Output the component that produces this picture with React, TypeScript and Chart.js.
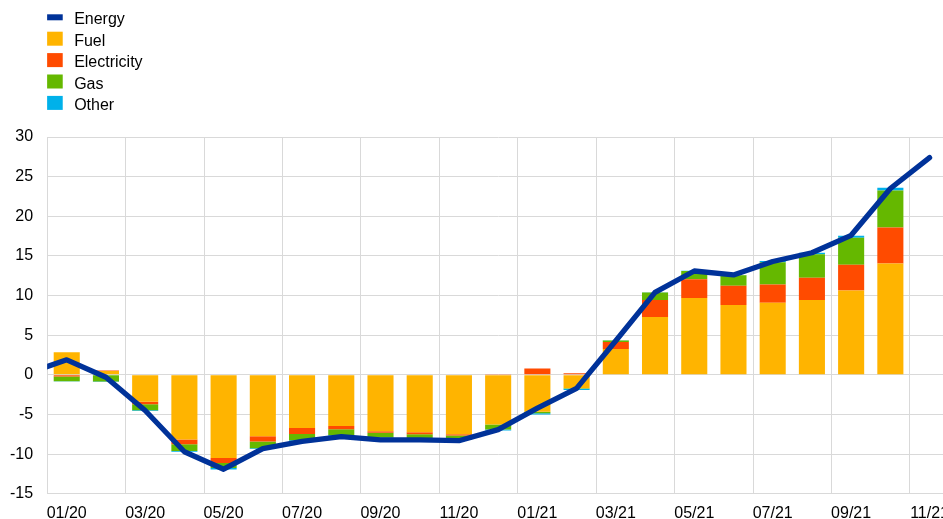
import { useEffect, useRef } from 'react';
import { Chart, registerables } from 'chart.js';

Chart.register(...registerables);

// Month before the first shown month (line enters from the left edge)
const priorMonth = '12/19';
const months = [
  '01/20', '02/20', '03/20', '04/20', '05/20', '06/20', '07/20', '08/20', '09/20', '10/20', '11/20', '12/20',
  '01/21', '02/21', '03/21', '04/21', '05/21', '06/21', '07/21', '08/21', '09/21', '10/21', '11/21',
];

// Energy inflation, 12/19 .. 11/21
const energy = [
  0.2, 1.9, -0.3, -4.5, -9.7, -11.9, -9.3, -8.4, -7.8, -8.2, -8.2, -8.3, -6.9,
  -4.2, -1.7, 4.3, 10.4, 13.1, 12.6, 14.3, 15.4, 17.6, 23.5, 27.4,
];

// Contributions, 01/20 .. 10/21
const fuel = [
  2.85, 0.5, -3.4, -8.15, -10.5, -7.75, -6.7, -6.45, -7.1, -7.25, -7.5, -6.25,
  -4.65, -1.7, 3.25, 7.3, 9.7, 8.8, 9.1, 9.45, 10.65, 14.05,
];
const electricity = [
  -0.2, 0.05, -0.3, -0.6, -0.6, -0.65, -0.75, -0.4, -0.2, -0.25, -0.15, 0.1,
  0.8, 0.2, 0.9, 2.15, 2.35, 2.45, 2.3, 2.8, 3.25, 4.55,
];
const gas = [
  -0.6, -0.85, -0.75, -0.85, -0.65, -0.85, -0.8, -0.75, -0.6, -0.5, -0.4, -0.65,
  -0.2, -0.05, 0.2, 0.95, 1.05, 1.3, 2.8, 2.95, 3.4, 4.65,
];
const other = [
  -0.05, -0.05, -0.1, -0.1, -0.2, -0.1, -0.1, -0.1, -0.1, -0.1, -0.12, -0.12,
  -0.15, -0.15, 0.02, 0.02, 0.02, 0.03, 0.15, 0.2, 0.25, 0.35,
];

const yTicks = { min: -15, max: 30, step: 5 };

const FONT = '"Liberation Sans", Arial, Helvetica, sans-serif';
const GRID = '#d9d9d9';

const labels = [priorMonth, ...months];
const pad = (arr: number[]) => {
  const out: (number | null)[] = labels.map(() => null);
  arr.forEach((v, i) => (out[i + 1] = v));
  return out;
};

const legendPlugin = {
  id: 'customLegend',
  afterDraw(chart: any) {
    const ctx = chart.ctx;
    const x0 = chart.chartArea.left;
    ctx.save();
    chart.data.datasets.forEach((ds: any, i: number) => {
      const cy = 17.3 + i * 21.4;
      ctx.fillStyle = ds.type === 'line' ? ds.borderColor : ds.backgroundColor;
      if (ds.type === 'line') ctx.fillRect(x0, cy - 3, 15.6, 6);
      else ctx.fillRect(x0, cy - 7, 15.6, 14);
      ctx.fillStyle = '#000';
      ctx.font = `16px ${FONT}`;
      ctx.textBaseline = 'alphabetic';
      ctx.textAlign = 'left';
      ctx.fillText(ds.label, x0 + 27, cy + 7);
    });
    ctx.restore();
  },
};

const W = 973;
const H = 533;

export default function App() {
  const ref = useRef<HTMLCanvasElement | null>(null);

  useEffect(() => {
    document.documentElement.style.overflow = 'hidden';
    document.body.style.overflow = 'hidden';
    const canvas = ref.current;
    if (!canvas) return;
    const bar = (label: string, data: number[], color: string) => ({
      type: 'bar' as const,
      label,
      data: pad(data),
      backgroundColor: color,
      borderWidth: 0,
      stack: 'components',
      order: 1,
      categoryPercentage: 1,
      barPercentage: 0.665,
    });
    const chart = new Chart(canvas, {
      type: 'bar',
      data: {
        labels,
        datasets: [
          {
            type: 'line' as const,
            label: 'Energy',
            data: energy,
            borderColor: '#003299',
            backgroundColor: '#003299',
            borderWidth: 5.3,
            pointRadius: 0,
            pointHoverRadius: 0,
            tension: 0,
            borderCapStyle: 'round',
            borderJoinStyle: 'round',
            stack: 'energy',
            order: 0,
            clip: 0,
          } as any,
          bar('Fuel', fuel, '#ffb400'),
          bar('Electricity', electricity, '#ff4b00'),
          bar('Gas', gas, '#65b800'),
          bar('Other', other, '#00b1ea'),
        ],
      },
      options: {
        animation: false,
        responsive: false,
        layout: { padding: { left: 10, top: 137, right: 0, bottom: 0 } },
        plugins: {
          legend: { display: false },
          tooltip: { enabled: false },
        },
        scales: {
          x: {
            type: 'category',
            min: months[0],
            stacked: true,
            offset: true,
            grid: {
              offset: true,
              drawTicks: false,
              color: (c: any) => (c.index % 2 === 0 ? GRID : 'rgba(0,0,0,0)'),
              lineWidth: 1,
            },
            border: { color: GRID, width: 1 },
            ticks: {
              autoSkip: false,
              maxRotation: 0,
              padding: 10,
              color: '#000',
              font: { size: 16, family: FONT },
              callback: function (this: any, value: any, index: number) {
                return index % 2 === 0 ? this.getLabelForValue(value) : '';
              },
            },
          },
          y: {
            stacked: true,
            min: yTicks.min,
            max: yTicks.max,
            grid: { color: GRID, drawTicks: false, lineWidth: 1 },
            border: { color: GRID, width: 1 },
            ticks: {
              stepSize: yTicks.step,
              padding: 14,
              color: '#000',
              font: { size: 16, family: FONT },
            },
          },
        },
      },
      plugins: [legendPlugin],
    } as any);
    return () => chart.destroy();
  }, []);

  return (
    <div style={{ position: 'fixed', left: -14, top: 0, width: W, height: H, background: '#fff' }}>
      <canvas ref={ref} width={W} height={H} style={{ width: W, height: H, display: 'block' }} />
    </div>
  );
}
